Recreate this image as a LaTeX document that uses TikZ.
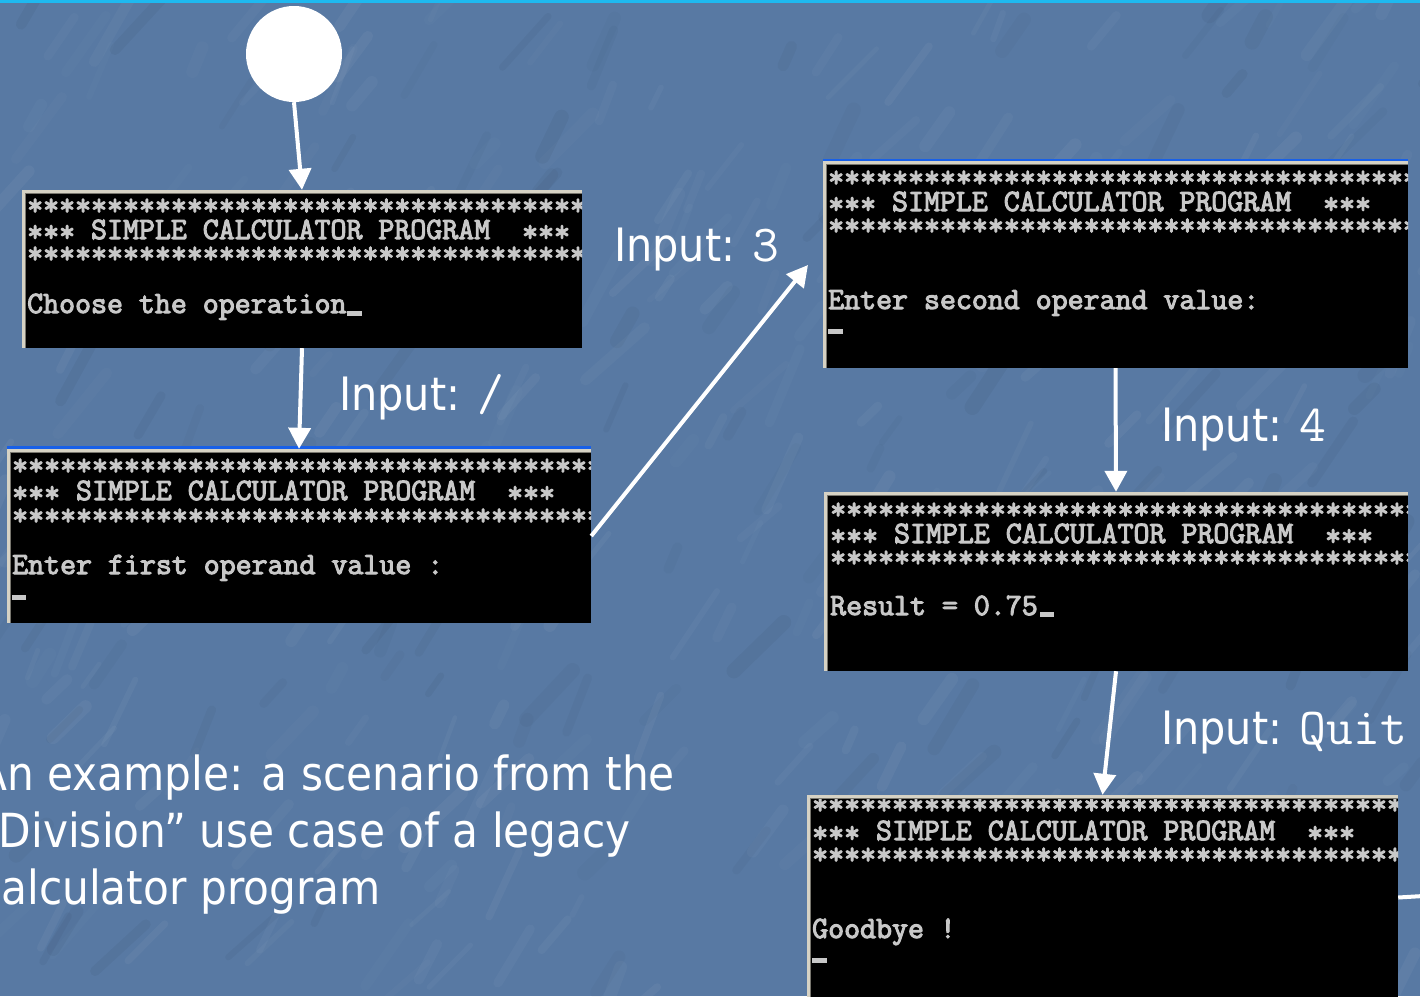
\documentclass[tikz,border=0pt]{standalone}
\usepackage{fontspec}
\usetikzlibrary{arrows.meta,fit}

% label and caption face, console face
\newfontfamily\labelsans{DejaVu Sans}[FakeStretch=0.9]
\newfontfamily\consolefont{Latin Modern Mono}[FakeBold=3.5]

\definecolor{slate}{RGB}{88,121,163}
\definecolor{topbar}{RGB}{30,185,240}
\definecolor{context}{RGB}{200,200,200}
\definecolor{frame}{RGB}{214,210,196}
\definecolor{frameshade}{RGB}{120,118,110}
\definecolor{xpblue}{RGB}{24,96,232}

\tikzset{
  flow/.style={draw=white, line width=4pt, -{Triangle[length=21pt,width=22pt]}},
  plainflow/.style={draw=white, line width=4pt},
  lbl/.style={anchor=base west, inner sep=0pt, text=white,
              font=\labelsans\fontsize{46}{46}\selectfont},
  captionline/.style={anchor=base west, inner sep=0pt, text=white,
              font=\labelsans\fontsize{47}{57}\selectfont},
  contxt/.style={anchor=base west, inner sep=0pt, text=context,
              font=\consolefont\fontsize{31}{30}\selectfont},
  cursorbar/.style={fill=context},
}

% typed user input, set in the typewriter face
\newcommand\inputval[1]{{\ttfamily\fontsize{52}{52}\selectfont #1}}
\newcommand\starrow{****************************************}
\newcommand\midstars{\raisebox{-2.5pt}{***}}
\newcommand\bannerrow{\midstars\ SIMPLE\ CALCULATOR\ PROGRAM\ \ \midstars}

% console window: name, x1, y1, x2, y2
\newcommand\conwin[5]{%
  \fill[black] (#2,#3) rectangle (#4,#5);
  \fill[frame] (#2,#3) rectangle (#4,#3+4);
  \fill[frame] (#2,#3) rectangle (#2+4,#5);
  \fill[frameshade] (#2+3,#3+3) rectangle (#4,#3+4);
  \fill[frameshade] (#2+3,#3+3) rectangle (#2+4,#5);
  \node[fit={(#2,#3) (#4,#5)}, inner sep=0pt] (#1) {};
}

\begin{document}
\begin{tikzpicture}[x=1pt,y=-1pt]
\useasboundingbox (0,0) rectangle (1420,996);
\clip (0,0) rectangle (1420,996);

% textured slate background: faint light and dark smears
\fill[slate] (0,0) rectangle (1420,996);
\pgfmathsetseed{12}
\foreach \k in {1,...,300}{
  \pgfmathsetmacro\sx{rnd*1480-30}
  \pgfmathsetmacro\sy{rnd*1020}
  \pgfmathsetmacro\sl{20+rnd*60}
  \pgfmathsetmacro\sa{40+rnd*30}
  \pgfmathsetmacro\so{0.015+rnd*0.03}
  \pgfmathsetmacro\sw{4+rnd*9}
  \draw[white, opacity=\so, line width=\sw pt, line cap=round]
    (\sx,\sy) -- ++(-\sa:\sl);
}
\foreach \k in {1,...,120}{
  \pgfmathsetmacro\sx{rnd*1480-30}
  \pgfmathsetmacro\sy{rnd*1020}
  \pgfmathsetmacro\sl{20+rnd*60}
  \pgfmathsetmacro\sa{40+rnd*30}
  \pgfmathsetmacro\so{0.015+rnd*0.025}
  \pgfmathsetmacro\sw{6+rnd*10}
  \draw[black, opacity=\so, line width=\sw pt, line cap=round]
    (\sx,\sy) -- ++(-\sa:\sl);
}
\fill[topbar] (0,0) rectangle (1420,3);

% start state
\node[circle, fill=white, minimum size=96pt, inner sep=0pt] (start) at (294,54) {};

% console windows
\conwin{w1}{22}{190}{582}{348}
\fill[xpblue] (7,446) rectangle (591,449);
\conwin{w2}{7}{449}{591}{623}
\fill[xpblue] (823,159) rectangle (1408,161);
\conwin{w3}{823}{161}{1408}{368}
\conwin{w4}{824}{492}{1408}{671}
\conwin{w5}{807}{795}{1398}{1000}

\begin{scope}
  \clip (26,194) rectangle (582,348);
  \node[contxt] (w1s1) at (27,215) {\starrow};
  \node[contxt] (w1t) at (27,239) {\bannerrow};
  \node[contxt] (w1s2) at (27,263) {\starrow};
  \node[contxt] (w1l) at (27,313) {Choose\ the\ operation};
  \fill[cursorbar] (347,311) rectangle (362,316);
\end{scope}

\begin{scope}
  \clip (11,453) rectangle (591,623);
  \node[contxt] (w2s1) at (12,475) {\starrow};
  \node[contxt] (w2t) at (12,500) {\bannerrow};
  \node[contxt] (w2s2) at (12,525) {\starrow};
  \node[contxt] (w2l) at (12,574) {Enter\ first\ operand\ value\ :};
  \fill[cursorbar] (12,595) rectangle (26,600);
\end{scope}

\begin{scope}
  \clip (827,165) rectangle (1408,368);
  \node[contxt] (w3s1) at (828,187) {\starrow};
  \node[contxt] (w3t) at (828,211) {\bannerrow};
  \node[contxt] (w3s2) at (828,235) {\starrow};
  \node[contxt] (w3l) at (828,309) {Enter\ second\ operand\ value:};
  \fill[cursorbar] (828,329) rectangle (843,334);
\end{scope}

\begin{scope}
  \clip (828,496) rectangle (1408,671);
  \node[contxt] (w4s1) at (830,519) {\starrow};
  \node[contxt] (w4t) at (830,543) {\bannerrow};
  \node[contxt] (w4s2) at (830,567) {\starrow};
  \node[contxt] (w4l) at (830,615) {Result\ =\ 0.75};
  \fill[cursorbar] (1040,612) rectangle (1054,617);
\end{scope}

\begin{scope}
  \clip (811,799) rectangle (1398,1000);
  \node[contxt] (w5s1) at (812,814) {\starrow};
  \node[contxt] (w5t) at (812,840) {\bannerrow};
  \node[contxt] (w5s2) at (812,864) {\starrow};
  \node[contxt] (w5l) at (812,938) {Goodbye\ !};
  \fill[cursorbar] (812,958) rectangle (827,963);
\end{scope}

% transitions
\coordinate (into3) at (808,265);
\coordinate (exit) at (1440,895);
\draw[flow] (start.south) -- (w1.north);
\draw[flow] (w1.south) -- (w2.north);
\draw[flow] (w2.east) -- (into3);
\draw[flow] (w3.south) -- (w4.north);
\draw[flow] (w4.south) -- (w5.north);
\draw[plainflow] (w5.east) -- (exit);

% inputs on the transitions
\node[lbl] (in-op) at (339,410) {Input: \inputval{/}};
\node[lbl] (in-3) at (614,261) {Input: \inputval{3}};
\node[lbl] (in-4) at (1161,441) {Input: \inputval{4}};
\node[lbl] (in-quit) at (1161,744) {Input: \inputval{Quit}};

% caption
\node[captionline] (cap1) at (-22,790) {An example: a scenario from the};
\node[captionline] (cap2) at (-22,847) {“Division” use case of a legacy};
\node[captionline] (cap3) at (-22,904) {calculator program};
\end{tikzpicture}
\end{document}
